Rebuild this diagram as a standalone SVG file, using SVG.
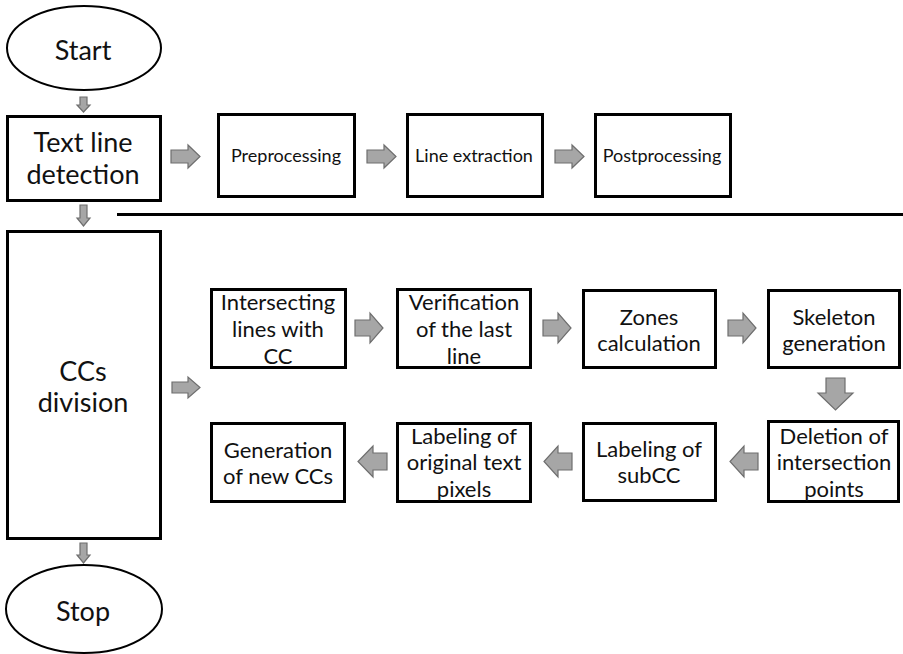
<svg xmlns="http://www.w3.org/2000/svg" width="903" height="654" viewBox="0 0 903 654">
<style>
.box{fill:#fff;stroke:#000;stroke-width:3}
.ell{fill:#fff;stroke:#000;stroke-width:2}
.arr{fill:#a6a6a6;stroke:#6e6e6e;stroke-width:1.2;stroke-linejoin:miter}
text{font-family:Lato,"Liberation Sans",sans-serif;fill:#111;text-anchor:middle;dominant-baseline:central}
.big{font-size:27px}
.mid{font-size:22px}
.sm{font-size:18px}
</style>
<rect width="903" height="654" fill="#fff"/>
<g id="connectors">
<polygon class="arr" points="80,97 87,97 87,105 90,105 83.5,112 77,105 80,105"/>
<polygon class="arr" points="80,205 87,205 87,218 90,218 83.5,226 77,218 80,218"/>
<polygon class="arr" points="80,543 87,543 87,555 90,555 83.5,563 77,555 80,555"/>
<polygon class="arr" points="171,150 188,150 188,145 200,156.5 188,168 188,163 171,163"/>
<polygon class="arr" points="367,150 384,150 384,145 396,156.5 384,168 384,163 367,163"/>
<polygon class="arr" points="555,150 572,150 572,145 584,156.5 572,168 572,163 555,163"/>
<polygon class="arr" points="172,382 188,382 188,377 200,387.5 188,398 188,393 172,393"/>
<polygon class="arr" points="355,320 370,320 370,313 383,328 370,343 370,336 355,336"/>
<polygon class="arr" points="543,320 558,320 558,313 571,328 558,343 558,336 543,336"/>
<polygon class="arr" points="728,320 743,320 743,313 756,328 743,343 743,336 728,336"/>
<polygon class="arr" points="826,378 845,378 845,393 853,393 835.5,410 818,393 826,393"/>
<polygon class="arr" points="758,453 744,453 744,446 730,461.5 744,477 744,470 758,470"/>
<polygon class="arr" points="572,453 558,453 558,446 544,461.5 558,477 558,470 572,470"/>
<polygon class="arr" points="387,453 373,453 373,446 358,461.5 373,477 373,470 387,470"/>
<line x1="117" y1="214.5" x2="903" y2="214.5" stroke="#000" stroke-width="3"/>
</g>
<g id="start"><ellipse class="ell" cx="84" cy="48" rx="77" ry="42"/><text class="big" x="83" y="49">Start</text></g>
<g id="textline"><rect class="box" x="7.5" y="116.5" width="153" height="84"/><text class="big" x="83" y="141">Text line</text><text class="big" x="83" y="173">detection</text></g>
<g id="pre"><rect class="box" x="218.5" y="114.5" width="136" height="82"/><text class="sm" x="286" y="155">Preprocessing</text></g>
<g id="lineext"><rect class="box" x="407.5" y="114.5" width="135" height="82"/><text class="sm" x="474" y="155">Line extraction</text></g>
<g id="post"><rect class="box" x="595.5" y="114.5" width="135" height="82"/><text class="sm" x="662" y="155">Postprocessing</text></g>
<g id="ccs"><rect class="box" x="7.5" y="231.5" width="153" height="307"/><text class="big" x="83" y="370">CCs</text><text class="big" x="83" y="401">division</text></g>
<g id="intersect"><rect class="box" x="211.5" y="289.5" width="134" height="78"/><text class="mid" x="278" y="301">Intersecting</text><text class="mid" x="278" y="328">lines with</text><text class="mid" x="278" y="355">CC</text></g>
<g id="verif"><rect class="box" x="397.5" y="289.5" width="133" height="78"/><text class="mid" x="464" y="301">Verification</text><text class="mid" x="464" y="328">of the last</text><text class="mid" x="464" y="355">line</text></g>
<g id="zones"><rect class="box" x="583.5" y="290.5" width="132" height="77"/><text class="mid" x="649" y="316">Zones</text><text class="mid" x="649" y="342">calculation</text></g>
<g id="skel"><rect class="box" x="768.5" y="290.5" width="131" height="77"/><text class="mid" x="834" y="316">Skeleton</text><text class="mid" x="834" y="342">generation</text></g>
<g id="deletion"><rect class="box" x="768.5" y="421.5" width="130" height="80"/><text class="mid" x="834" y="435">Deletion of</text><text class="mid" x="834" y="461">intersection</text><text class="mid" x="834" y="488">points</text></g>
<g id="labsub"><rect class="box" x="583.5" y="423.5" width="132" height="77"/><text class="mid" x="649" y="448">Labeling of</text><text class="mid" x="649" y="474">subCC</text></g>
<g id="laborig"><rect class="box" x="397.5" y="423.5" width="133" height="78"/><text class="mid" x="464" y="435">Labeling of</text><text class="mid" x="464" y="461">original text</text><text class="mid" x="464" y="488">pixels</text></g>
<g id="gen"><rect class="box" x="211.5" y="423.5" width="133" height="78"/><text class="mid" x="278" y="449">Generation</text><text class="mid" x="278" y="475">of new CCs</text></g>
<g id="stop"><ellipse class="ell" cx="84" cy="609" rx="78" ry="44"/><text class="big" x="83" y="610">Stop</text></g>
</svg>
